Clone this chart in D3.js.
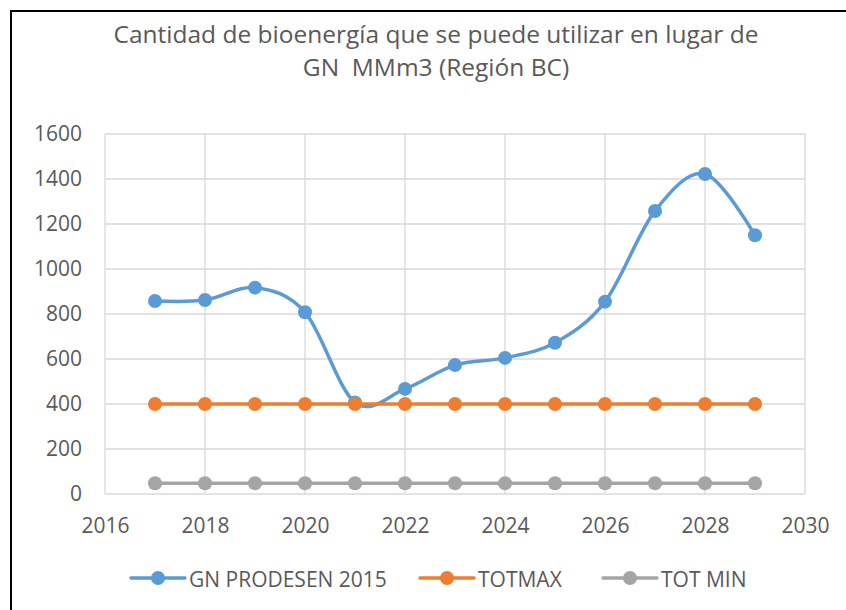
<!DOCTYPE html>
<html>
<head>
<meta charset="utf-8">
<script src="https://cdn.jsdelivr.net/npm/d3@7"></script>
<style>
  html, body { margin: 0; padding: 0; background: #fff; }
  svg { display: block; }
  text { font-family: "Open Sans", "Noto Sans", sans-serif; fill: #595959; }
</style>
</head>
<body>
<svg id="chart" width="846" height="610"></svg>
<script>
// Years on the x axis
const years = [2017, 2018, 2019, 2020, 2021, 2022, 2023, 2024, 2025, 2026, 2027, 2028, 2029];
// Series values (MMm3)
const gnProdesen = [858, 862, 917, 808, 407, 467, 573, 605, 672, 855, 1258, 1422, 1150];
const totMax = [400, 400, 400, 400, 400, 400, 400, 400, 400, 400, 400, 400, 400];
const totMin = [48, 48, 48, 48, 48, 48, 48, 48, 48, 48, 48, 48, 48];
// Axis ticks
const xTicks = [2016, 2018, 2020, 2022, 2024, 2026, 2028, 2030];
const yTicks = [0, 200, 400, 600, 800, 1000, 1200, 1400, 1600];
const titleLines = ["Cantidad de bioenergía que se puede utilizar en lugar de", "GN  MMm3 (Región BC)"];

const seriesNames = ["GN PRODESEN 2015", "TOTMAX", "TOT MIN"];
const seriesColors = ["#5b9bd5", "#ed7d31", "#a5a5a5"];
const seriesData = [gnProdesen, totMax, totMin];

const svg = d3.select("#chart");

// Outer chart frame
svg.append("rect")
  .attr("x", 11).attr("y", 11).attr("width", 850).attr("height", 620)
  .attr("fill", "none").attr("stroke", "#000").attr("stroke-width", 2);

const plot = { left: 105, top: 134, right: 805, bottom: 494 };
const x = d3.scaleLinear().domain([2016, 2030]).range([plot.left, plot.right]);
const y = d3.scaleLinear().domain([0, 1600]).range([plot.bottom, plot.top]);

// Title
svg.append("g").selectAll("text").data(titleLines).join("text")
  .attr("x", 436).attr("y", (d, i) => 43 + i * 33)
  .attr("text-anchor", "middle")
  .attr("font-size", 24.5)
  .style("white-space", "pre")
  .attr("xml:space", "preserve")
  .text(d => d);

// Gridlines
const grid = svg.append("g").attr("stroke", "#d9d9d9").attr("stroke-width", 1.3);
grid.selectAll(".h").data(yTicks).join("line")
  .attr("x1", plot.left).attr("x2", plot.right)
  .attr("y1", d => y(d)).attr("y2", d => y(d));
grid.selectAll(".v").data(xTicks).join("line")
  .attr("y1", plot.top).attr("y2", plot.bottom)
  .attr("x1", d => x(d)).attr("x2", d => x(d));

// Axes (labels only; lines come from the grid)
const yAxis = svg.append("g").attr("transform", `translate(${plot.left},0)`)
  .call(d3.axisLeft(y).tickValues(yTicks).tickSize(0).tickPadding(23).tickFormat(d3.format("d")));
const xAxis = svg.append("g").attr("transform", `translate(0,${plot.bottom})`)
  .call(d3.axisBottom(x).tickValues(xTicks).tickSize(0).tickPadding(24).tickFormat(d3.format("d")));
[yAxis, xAxis].forEach(a => {
  a.select(".domain").remove();
  a.selectAll("text").attr("font-size", 21).attr("fill", "#595959")
    .style("font-family", '"Open Sans", "Noto Sans", sans-serif');
});

// Series lines and markers
const line = d3.line()
  .x((d, i) => x(years[i]))
  .y(d => y(d))
  .curve(d3.curveCatmullRom.alpha(0));

seriesData.forEach((vals, k) => {
  const g = svg.append("g");
  g.append("path").datum(vals)
    .attr("d", line)
    .attr("fill", "none")
    .attr("stroke", seriesColors[k])
    .attr("stroke-width", 3.5)
    .attr("stroke-linecap", "round");
  g.selectAll("circle").data(vals).join("circle")
    .attr("cx", (d, i) => x(years[i]))
    .attr("cy", d => y(d))
    .attr("r", 7)
    .attr("fill", seriesColors[k]);
});

// Legend
const legendX = [131, 420, 603];
const legend = svg.append("g");
seriesNames.forEach((name, k) => {
  const lg = legend.append("g").attr("transform", `translate(${legendX[k]},578)`);
  lg.append("line").attr("x1", 0).attr("x2", 54).attr("y1", 0).attr("y2", 0)
    .attr("stroke", seriesColors[k]).attr("stroke-width", 3.5).attr("stroke-linecap", "round");
  lg.append("circle").attr("cx", 27).attr("cy", 0).attr("r", 7).attr("fill", seriesColors[k]);
  lg.append("text").attr("x", 58).attr("y", 9).attr("font-size", 21).text(name);
});
</script>
</body>
</html>
